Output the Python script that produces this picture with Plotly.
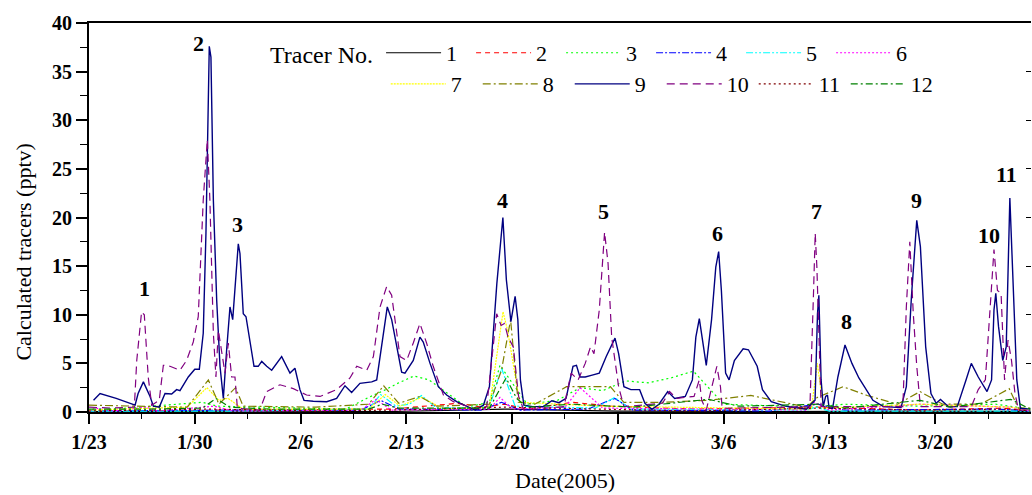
import pandas as pd
import plotly.graph_objects as go

START = pd.Timestamp("2005-01-23")
END_DAYS = 62.34

# ---- data: time in days since 1/23/2005, values in pptv ----
t1 = [0, 10, 20, 27.5, 35, 45, 55, 62.3]
v1 = [0.05, 0.1, 0.05, 0.3, 0.1, 0.05, 0.1, 0.05]

t2 = [0, 8, 20, 24.5, 26, 27.5, 29, 32, 34.5, 40, 48.2, 55, 60.5, 62.3]
v2 = [0.1, 0.2, 0.3, 0.9, 0.5, 0.8, 0.3, 1.0, 0.6, 0.3, 0.5, 0.2, 0.4, 0.1]

t3 = [0, 7.5, 8.5, 17, 18.5, 19.5, 20.5, 21.5, 22.5, 23.5, 25, 26.5, 27.2, 28, 29, 31,
      32.5, 34, 35.5, 37, 38.5, 40, 41, 42, 48, 50, 55, 60, 62.3]
v3 = [0.1, 1.0, 0.6, 0.3, 1.5, 2.2, 3.0, 3.7, 3.3, 2.2, 0.5, 1.0, 4.8, 3.0, 0.8, 1.2,
      2.5, 2.2, 3.2, 3.0, 3.5, 4.2, 2.5, 0.8, 0.5, 0.8, 0.6, 0.8, 0.3]

t4 = [0, 10, 18, 19.3, 20.5, 26, 27.3, 28.5, 33, 34.8, 36, 45, 48.2, 50, 60, 62.3]
v4 = [0.1, 0.2, 0.2, 1.2, 0.3, 0.2, 1.0, 0.2, 0.3, 1.4, 0.2, 0.1, 0.8, 0.2, 0.3, 0.1]

t5 = [0, 10, 18.5, 19.3, 20.3, 21.2, 22, 23, 26.5, 27.3, 28.2, 33.5, 34.8, 35.8, 47.5, 48.1, 49, 62.3]
v5 = [0.1, 0.1, 0.3, 1.8, 0.6, 0.8, 1.7, 0.4, 0.5, 4.5, 0.6, 0.4, 1.5, 0.3, 0.2, 0.5, 0.1, 0.1]

t6 = [0, 0.4, 1.5, 3.8, 4.5, 8.3, 9.5, 18, 19, 20, 26.5, 27.2, 28, 31.5, 32.5, 34, 47.5, 48, 49, 55, 61, 62.3]
v6 = [0.1, 0.4, 0.1, 0.5, 0.1, 0.6, 0.1, 0.2, 1.3, 0.2, 0.3, 1.5, 0.3, 0.5, 2.5, 0.4, 0.2, 1.0, 0.2, 0.8, 0.5, 0.1]

t7 = [0, 6.5, 7.8, 8.6, 9.2, 10.2, 18.5, 19.6, 20.6, 22, 23.5, 26.5, 27.4, 27.7, 28.5, 34, 47.8, 48.2, 48.6, 55, 61, 62.3]
v7 = [0.2, 0.5, 2.5, 1.2, 1.4, 0.3, 0.3, 1.8, 0.6, 1.5, 0.3, 0.5, 10.3, 8.4, 1.0, 0.6, 0.3, 5.0, 0.4, 0.8, 0.5, 0.2]

t8 = [0, 3, 6.5, 7.9, 8.6, 9.7, 10.2, 15, 18.5, 19.5, 20.5, 21.9, 23, 26.5, 27.3, 27.9, 28.4,
      29.5, 31.6, 34.5, 35.4, 38, 41, 43.8, 47.5, 48.2, 49.9, 51.5, 53.5, 55, 56.5, 59, 60.9, 61.5, 62.3]
v8 = [0.7, 0.6, 0.5, 3.3, 0.8, 2.5, 0.6, 0.5, 0.8, 2.7, 0.9, 1.6, 0.6, 0.8, 4.3, 9.5, 1.0,
      0.8, 2.6, 2.6, 1.0, 1.0, 1.2, 1.7, 0.5, 1.5, 2.6, 1.7, 0.8, 2.1, 0.8, 0.8, 2.4, 0.4, 0.4]

t9 = [0.3, 0.73, 1.8, 3.05, 3.25, 3.6, 4.04, 4.26, 4.65, 5.03, 5.47, 5.8, 6.02, 6.57, 7.0, 7.3,
      7.56, 7.74, 7.96, 8.07, 8.23, 8.45, 8.67, 8.89, 9.11, 9.33, 9.51, 9.88, 9.99, 10.21, 10.39,
      10.66, 10.92, 11.2, 11.43, 11.76, 12.09, 12.75, 13.3, 13.63, 13.96, 14.23, 14.84, 15.73,
      16.39, 16.94, 17.38, 17.93, 18.71, 19.04, 19.37, 19.74, 20.03, 20.69, 20.91, 21.46, 21.9,
      22.12, 22.57, 23.12, 23.67, 24.33, 25.55, 26.1, 26.5, 26.99, 27.39, 27.62, 27.92, 28.2,
      28.38, 28.55, 28.78, 29.36, 30.06, 30.63, 31.1, 31.57, 32.03, 32.26, 32.49, 32.84, 33.3,
      33.77, 34.23, 34.81, 35.05, 35.4, 35.86, 36.44, 36.79, 37.25, 37.72, 38.3, 38.76, 39.46,
      39.93, 40.16, 40.39, 40.62, 40.85, 41.2, 41.48, 41.67, 41.85, 42.13, 42.36, 42.71, 43.29,
      43.64, 44.22, 44.57, 45.15, 46.08, 47.01, 47.47, 48.05, 48.21, 48.3, 48.45, 48.59, 48.75,
      48.87, 48.98, 49.21, 49.56, 50.03, 50.49, 50.95, 51.42, 51.88, 52.58, 53.74, 54.09, 54.43,
      54.78, 55.02, 55.37, 55.72, 56.06, 56.35, 56.88, 57.46, 58.04, 58.39, 58.85, 59.43, 59.73,
      59.89, 60.01, 60.19, 60.47, 60.7, 60.94, 61.12, 61.4, 61.64, 62.3]
v9 = [1.2, 1.9, 1.4, 0.7, 1.9, 3.1, 1.6, 0.6, 0.5, 1.9, 1.85, 2.3, 2.2, 3.6, 4.4, 4.4,
      8.1, 18.4, 37.6, 36.5, 21.8, 11.5, 4.7, 1.4, 6.4, 10.8, 9.5, 17.3, 16.3, 10.1, 9.8,
      7.1, 4.7, 4.7, 5.2, 4.7, 4.3, 5.7, 4.0, 4.5, 2.3, 1.2, 1.1, 1.06,
      1.4, 2.7, 2.0, 2.95, 3.1, 3.3, 6.7, 10.8, 9.5, 4.1, 4.0, 5.3, 7.7,
      7.2, 5.0, 2.6, 1.75, 1.06, 0.2, 0.7, 2.6, 13.2, 20.0, 13.6, 9.3, 11.9,
      9.5, 3.3, 0.7, 0.55, 0.55, 1.16, 0.96, 1.4, 4.7, 4.8, 3.6, 3.6, 3.8,
      4.0, 5.7, 7.6, 6.0, 2.6, 2.3, 2.3, 0.9, 0.28, 0.8, 2.1, 1.4, 1.6,
      3.3, 7.7, 9.6, 7.4, 4.8, 9.5, 14.9, 16.5, 12.5, 4.0, 3.3, 5.3, 6.5,
      6.4, 4.7, 2.3, 1.06, 0.6, 0.38, 0.28, 1.2, 10.1, 12.0, 3.3, 0.55, 1.6,
      1.75, 0.38, 0.38, 3.6, 6.9, 5.0, 3.5, 2.3, 1.2, 0.55, 0.45, 2.6, 11.9,
      19.7, 17.0, 6.7, 1.9, 0.9, 1.3, 0.55, 0.55, 3.3, 5.0, 3.6, 2.1, 3.3,
      10.5, 12.2, 8.8, 5.3, 6.7, 22.0, 15.3, 3.3, 0.38, 0.3]

t10 = [0, 1.5, 3.0, 3.16, 3.48, 3.66, 3.92, 4.15, 4.65, 4.92, 5.36, 6.02, 6.46, 6.9, 7.23, 7.56,
       7.83, 8.0, 8.23, 8.4, 8.56, 8.78, 9.0, 9.22, 9.44, 9.66, 9.82, 11.3, 11.76, 12.64, 13.52,
       14.4, 15.29, 16.39, 17.27, 17.72, 18.38, 18.82, 19.26, 19.7, 20.03, 20.58, 21.02, 21.46,
       21.9, 22.34, 22.78, 23.45, 24.11, 25.43, 26.32, 26.98, 27.27, 27.5, 27.73, 28.08, 28.43,
       28.78, 31.43, 31.91, 32.37, 32.84, 33.19, 33.42, 33.77, 34.12, 34.35, 34.59, 34.82, 35.05,
       35.4, 37.95, 38.42, 38.88, 40.04, 40.39, 40.55, 40.85, 41.55, 41.79, 41.9, 47.71, 47.94,
       48.06, 48.17, 48.31, 48.45, 53.86, 54.09, 54.32, 54.55, 54.78, 55.02, 58.39, 58.85, 59.32,
       59.66, 59.89, 60.12, 60.36, 60.59, 60.82, 61.05, 61.28, 61.52, 62.3]
v10 = [0.5, 0.4, 0.5, 5.3, 10.3, 10.0, 3.6, 0.7, 1.2, 4.8, 4.7, 4.3, 5.3, 7.2, 9.8, 21.8,
       28.0, 21.8, 8.1, 3.6, 8.4, 6.4, 4.0, 7.1, 3.6, 3.6, 0.38, 0.2, 2.1, 2.8, 2.4,
       1.75, 1.6, 2.3, 3.5, 4.7, 4.3, 5.7, 10.8, 12.9, 12.0, 5.7, 5.3, 7.1,
       9.1, 7.1, 4.7, 1.75, 1.06, 0.38, 0.55, 10.1, 8.9, 9.1, 7.7, 6.7, 1.6,
       0.2, 0.55, 4.0, 3.3, 5.0, 6.7, 6.0, 10.5, 18.5, 15.3, 7.7, 5.0, 2.6,
       0.55, 0.9, 2.1, 1.4, 1.6, 3.3, 1.2, 0.2, 4.7, 2.6, 0.38, 0.55, 11.9,
       18.4, 14.9, 6.7, 0.55, 0.55, 10.8, 17.5, 10.1, 4.7, 0.55, 0.55, 2.3, 3.3,
       10.8, 16.7, 12.5, 12.2, 3.3, 7.4, 5.3, 1.9, 0.2, 0.2]

t11 = [0, 8, 15, 20, 27.5, 33, 40, 48.3, 55, 61, 62.3]
v11 = [0.1, 0.3, 0.1, 0.2, 0.5, 0.3, 0.1, 0.4, 0.2, 0.3, 0.1]

t12 = [0, 4, 7.5, 8.4, 9.3, 12, 18.5, 19.4, 20.5, 26.5, 27.6, 28.3, 29, 32, 36, 41, 43,
       48.3, 50, 55, 57, 61, 62.3]
v12 = [0.3, 0.3, 0.4, 1.4, 0.5, 0.3, 0.3, 0.8, 0.4, 0.4, 3.5, 1.4, 0.5, 0.8, 0.5, 1.3, 0.6,
       0.8, 0.4, 1.2, 0.5, 1.3, 0.3]

tracer_names = ["1", "2", "3", "4", "5", "6", "7", "8", "9", "10", "11", "12"]

peak_labels = ["1", "2", "3", "4", "5", "6", "7", "8", "9", "10", "11"]
peak_label_days = [3.70, 7.23, 9.84, 27.39, 34.05, 41.6, 48.12, 50.15, 54.78, 59.55, 60.74]
peak_label_vals = [12.74, 37.94, 19.23, 21.77, 20.6, 18.4, 20.6, 9.3, 21.8, 18.2, 24.4]

x_tick_days = [0, 7, 14, 21, 28, 35, 42, 49, 56]

# ---- styles ----
styles = [
    ("#000000", "solid"),
    ("#FF0000", "5px,4px"),
    ("#00FF00", "2px,3px"),
    ("#0000FF", "7px,2px,2px,2px"),
    ("#00FFFF", "7px,2px,2px,2px,2px,2px"),
    ("#FF00FF", "2px,2px"),
    ("#FFFF00", "2px,1px"),
    ("#808000", "8px,3px,2px,3px"),
    ("#000080", "solid"),
    ("#800080", "8px,5px"),
    ("#800000", "2px,3px"),
    ("#008000", "7px,3px,2px,3px"),
]

series_t = [t1, t2, t3, t4, t5, t6, t7, t8, t9, t10, t11, t12]
series_v = [v1, v2, v3, v4, v5, v6, v7, v8, v9, v10, v11, v12]


def to_dates(days):
    return [START + pd.Timedelta(days=d) for d in days]


FONT = "Liberation Serif, Times New Roman, serif"
fig = go.Figure()
for i, (tt, vv) in enumerate(zip(series_t, series_v)):
    assert len(tt) == len(vv), (i, len(tt), len(vv))
    col, dash = styles[i]
    fig.add_trace(go.Scatter(
        x=to_dates(tt), y=vv, mode="lines", name=tracer_names[i],
        line=dict(color=col, dash=dash, width=1.4 if i == 8 else 1.2),
        legend="legend" if i < 6 else "legend2",
    ))

# dummy trace to carry the right-hand tick axis
fig.add_trace(go.Scatter(x=[], y=[], yaxis="y2", showlegend=False, hoverinfo="skip"))

for lab, d, v in zip(peak_labels, peak_label_days, peak_label_vals):
    fig.add_annotation(x=START + pd.Timedelta(days=d), y=v, text=lab, showarrow=False,
                       font=dict(family=FONT, size=22, color="black", weight="bold"),
                       xanchor="center", yanchor="middle")

fig.add_annotation(xref="paper", yref="paper", x=-0.070, y=0.41, text="Calculated tracers (pptv)",
                   textangle=-90, showarrow=False, font=dict(family=FONT, size=22, color="black"),
                   xanchor="center", yanchor="middle")
fig.add_annotation(xref="paper", yref="paper", x=0.505, y=-0.176, text="Date(2005)",
                   showarrow=False, font=dict(family=FONT, size=22, color="black"),
                   xanchor="center", yanchor="middle")

fig.update_layout(
    width=1032, height=495,
    margin=dict(l=89, r=1, t=23, b=83),
    paper_bgcolor="white", plot_bgcolor="white",
    font=dict(family=FONT, color="black"),
    xaxis=dict(
        type="date",
        range=[START, START + pd.Timedelta(days=END_DAYS)],
        tickvals=to_dates(x_tick_days),
        tickformat="%-m/%-d",
        ticks="outside", ticklen=10, tickwidth=1.5, tickcolor="black",
        minor=dict(ticks="outside", ticklen=5, tickwidth=1.2, tickcolor="black",
                   dtick=3.5 * 86400000, tick0=START),
        ticklabelstandoff=1,
        tickfont=dict(family=FONT, size=20, color="black", weight="bold"),
        showline=True, linewidth=2, linecolor="black", mirror=True,
        showgrid=False, zeroline=False,
    ),
    yaxis=dict(
        range=[0, 40], dtick=5, tick0=0,
        ticks="outside", ticklen=11, tickwidth=1.5, tickcolor="black",
        minor=dict(ticks="outside", ticklen=7, tickwidth=1.2, tickcolor="black", dtick=2.5),
        tickfont=dict(family=FONT, size=20, color="black", weight="bold"),
        showline=True, linewidth=2, linecolor="black",
        showgrid=False, zeroline=False,
    ),
    yaxis2=dict(
        range=[0, 40], dtick=5, overlaying="y", side="right",
        ticks="inside", ticklen=5, tickwidth=1.2, tickcolor="black",
        showticklabels=False, showline=False, showgrid=False, zeroline=False,
    ),
    legend=dict(
        orientation="h", x=0.190, xanchor="left", y=0.977, yanchor="top",
        title=dict(text="Tracer No.", side="left", font=dict(family=FONT, size=24, color="black")),
        font=dict(family=FONT, size=22, color="black"),
        bgcolor="rgba(0,0,0,0)", itemwidth=55,
        entrywidth=20, entrywidthmode="pixels",
    ),
    legend2=dict(
        orientation="h", x=0.315, xanchor="left", y=0.897, yanchor="top",
        font=dict(family=FONT, size=22, color="black"),
        bgcolor="rgba(0,0,0,0)", itemwidth=55,
        entrywidth=22, entrywidthmode="pixels",
    ),
)

fig.write_html("out.html")
